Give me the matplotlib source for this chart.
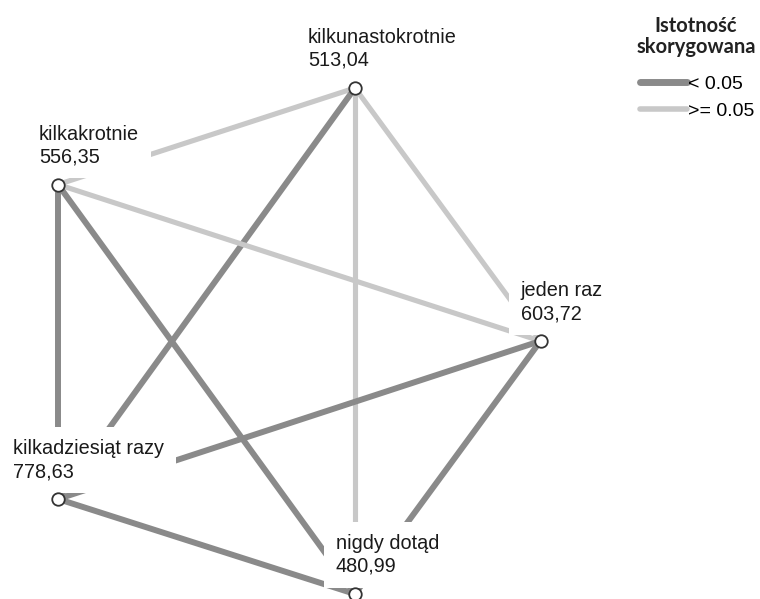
"""Pairwise comparisons graph (mean ranks) with significance-coloured edges."""

import matplotlib.pyplot as plt
from matplotlib.lines import Line2D

# Data: groups, their mean ranks and the pairwise comparisons
groups = ['kilkunastokrotnie', 'kilkakrotnie', 'jeden raz', 'kilkadziesiąt razy', 'nigdy dotąd']
mean_ranks = [513.04, 556.35, 603.72, 778.63, 480.99]

edge_a = ['kilkakrotnie', 'kilkunastokrotnie', 'kilkunastokrotnie', 'kilkunastokrotnie',
          'kilkakrotnie', 'kilkakrotnie', 'kilkakrotnie', 'jeden raz', 'jeden raz',
          'kilkadziesiąt razy']
edge_b = ['kilkunastokrotnie', 'kilkadziesiąt razy', 'nigdy dotąd', 'jeden raz',
          'jeden raz', 'kilkadziesiąt razy', 'nigdy dotąd', 'kilkadziesiąt razy',
          'nigdy dotąd', 'nigdy dotąd']
significant = [False, True, False, False, False, True, True, True, True, True]

legend_title = 'Istotność\nskorygowana'
legend_labels = ['< 0.05', '>= 0.05']

# Layout (pixel frame of the 760x599 canvas) and label offsets
layout = {
    'kilkunastokrotnie': (355, 88),
    'kilkakrotnie': (58, 184.5),
    'jeden raz': (540.5, 341),
    'kilkadziesiąt razy': (58, 499),
    'nigdy dotąd': (355, 594),
}
label_dx = {'kilkunastokrotnie': -47, 'kilkakrotnie': -19, 'jeden raz': -20,
            'kilkadziesiąt razy': -45, 'nigdy dotąd': -19}

dark = '#8a8a8a'
light = '#c8c8c8'

plt.rcParams['font.family'] = ['Liberation Sans', 'DejaVu Sans']

fig = plt.figure(figsize=(7.6, 5.99), dpi=100)
ax = fig.add_axes([0, 0, 1, 1])
ax.set_xlim(0, 760)
ax.set_ylim(599, 0)
ax.axis('off')

# edges
for a, b, sig in zip(edge_a, edge_b, significant):
    (x1, y1), (x2, y2) = layout[a], layout[b]
    ax.plot([x1, x2], [y1, y2], color=dark if sig else light,
            lw=4.3 if sig else 3.7, solid_capstyle='butt', zorder=1)

# labels with white boxes (hide the lines behind them)
for name, rank in zip(groups, mean_ranks):
    x, y = layout[name]
    txt = f"{name}\n{rank:.2f}".replace('.', ',')
    ax.text(x + label_dx[name], y - 22, txt, fontsize=14.3, color='#1a1a1a',
            ha='left', va='baseline', linespacing=1.25, zorder=2,
            bbox=dict(boxstyle='square,pad=0.6', fc='white', ec='none'))

# nodes
for name in groups:
    x, y = layout[name]
    ax.plot(x, y, 'o', ms=9, mfc='white', mec='#333333', mew=1.3, zorder=3)

# legend
ax.text(696, 53, legend_title, family=['Lato', 'DejaVu Sans'], weight='bold',
        fontsize=14.5, color='#222222', ha='center', va='baseline',
        linespacing=1.05)
handles = [Line2D([], [], color=dark, lw=5, solid_capstyle='round'),
           Line2D([], [], color=light, lw=4, solid_capstyle='round')]
leg = ax.legend(handles, legend_labels, loc='upper left',
                bbox_to_anchor=(640, 75), bbox_transform=ax.transData,
                frameon=False, fontsize=14, handlelength=2.4,
                handletextpad=0.05, labelspacing=0.5,
                borderpad=0, borderaxespad=0)

fig.savefig('out.png', dpi=100)
